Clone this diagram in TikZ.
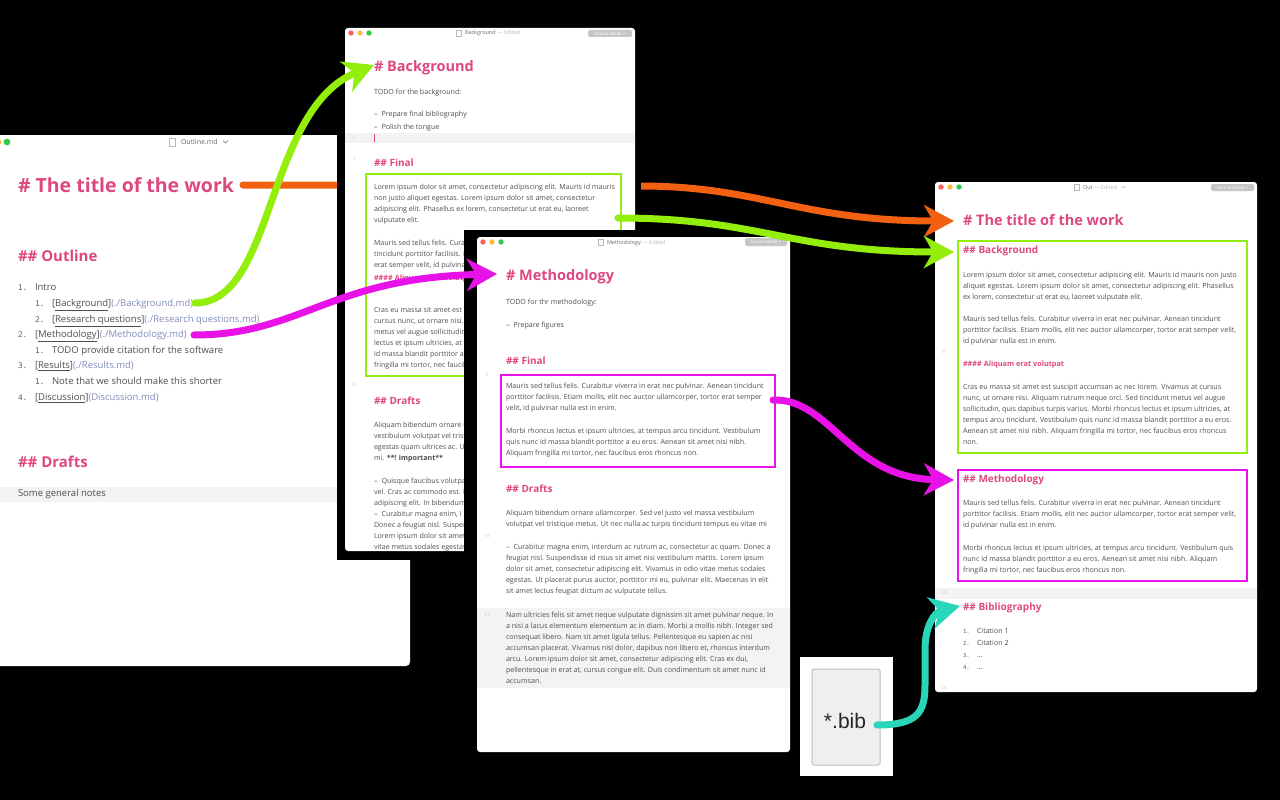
\documentclass[tikz,border=0pt]{standalone}
\usepackage{fontspec}
\setmainfont{Open Sans}
\newfontfamily\monof{DejaVu Sans Mono}
\newfontfamily\arialf{Liberation Sans}
\usetikzlibrary{arrows.meta}
\definecolor{hpink}{RGB}{222,72,128}
\definecolor{txt}{RGB}{78,78,78}
\definecolor{numc}{RGB}{95,95,95}
\definecolor{lnc}{RGB}{200,200,200}
\definecolor{linkc}{RGB}{130,140,188}
\definecolor{bandc}{RGB}{243,243,243}
\definecolor{ttc}{RGB}{105,105,105}
\definecolor{ttl}{RGB}{185,185,185}
\definecolor{pillc}{RGB}{198,198,198}
\definecolor{aorange}{RGB}{242,96,18}
\definecolor{agreen}{RGB}{146,238,10}
\definecolor{amag}{RGB}{232,18,232}
\definecolor{ateal}{RGB}{42,214,186}
\definecolor{tlred}{RGB}{252,96,92}
\definecolor{tlyel}{RGB}{253,188,64}
\definecolor{tlgrn}{RGB}{52,200,74}
\definecolor{bibfill}{RGB}{239,239,239}
\definecolor{bibdraw}{RGB}{184,188,200}
\newcommand\txtlines[5]{\foreach \tline [count=\ti from 0] in {#5}{\node[#4] (#1\ti) at (#2,#3+11.15*\ti) {\tline};}}
\newcommand\tlights[3]{\fill[tlred] (#1,#2) circle (#3pt); \fill[tlyel] (#1+9,#2) circle (#3pt); \fill[tlgrn] (#1+18,#2) circle (#3pt);}
\newcommand\lk[2]{[\underline{#1}]\textcolor{linkc}{(#2)}}
\begin{document}
\begin{tikzpicture}[x=1pt,y=-1pt,
  every node/.style={inner sep=0pt, outer sep=0pt},
  tx/.style={anchor=base west, text=txt, font=\fontsize{7.1}{8}\selectfont, yshift=-2pt},
  otx/.style={anchor=base west, text=txt, font=\fontsize{9.5}{11}\selectfont, yshift=-2.6pt},
  onum/.style={anchor=base west, text=numc, font=\monof\fontsize{7.8}{9}\selectfont, yshift=-2.6pt},
  bnum/.style={anchor=base west, text=numc, font=\monof\fontsize{5.6}{7}\selectfont, yshift=-2pt},
  hA/.style={anchor=base west, text=hpink, font=\bfseries\fontsize{14.5}{16}\selectfont, yshift=-5.2pt},
  hAo/.style={anchor=base west, text=hpink, font=\bfseries\fontsize{19.5}{22}\selectfont, yshift=-7pt},
  hB/.style={anchor=base west, text=hpink, font=\bfseries\fontsize{10}{12}\selectfont, yshift=-3.6pt},
  hBo/.style={anchor=base west, text=hpink, font=\bfseries\fontsize{15}{17}\selectfont, yshift=-5.4pt},
  hD/.style={anchor=base west, text=hpink, font=\bfseries\fontsize{7.3}{9}\selectfont, yshift=-2.6pt},
  lnum/.style={anchor=base, text=lnc, font=\fontsize{4.5}{5}\selectfont, yshift=-1.6pt},
  ttlx/.style={anchor=base west, text=ttc, font=\fontsize{5.5}{6}\selectfont, yshift=-2pt},
  pilltx/.style={text=white, font=\fontsize{4.4}{5}\selectfont},
  pillbox/.style={fill=pillc, rounded corners=1.5pt},
  frame/.style={fill=black},
  win/.style={fill=white, rounded corners=3pt},
  hibox/.style={draw=#1, line width=1.8pt},
  icon/.style={draw=ttl, line width=0.4pt},
  conn/.style={draw=#1, line width=7pt, line cap=round, -{Stealth[length=30pt,width=32pt,inset=9pt]}}
]
\clip (0,0) rectangle (1280,800);
\fill[black] (0,0) rectangle (1280,800);

% ================= Out window =================
\fill[win] (935,182) rectangle (1257,692);
\tlights{941}{187}{2.7}
\draw[icon] (1074.5,184) rectangle (1079,190.5);
\node[ttlx] (outTitle) at (1083,187) {Out \textcolor{ttl}{— Edited}};
\draw[ttl, line width=0.4pt] (1121.5,186) -- (1123.5,188) -- (1125.5,186);
\fill[pillbox] (1211,184) rectangle (1254,191);
\node[pilltx] (outPill) at (1232.5,187.5) {Source Mode ×};
\node[lnum] (o1n) at (944,211) {1};
\node[hA] (outT) at (963,220) {\# The title of the work};
\draw[hibox=agreen] (958,241) rectangle (1247,453);
\node[hB] (outBg) at (963,250) {\#\# Background};
\txtlines{oP}{963}{275}{tx}{{Lorem ipsum dolor sit amet, consectetur adipiscing elit. Mauris id mauris non justo},{aliquet egestas. Lorem ipsum dolor sit amet, consectetur adipiscing elit. Phasellus},{ex lorem, consectetur ut erat eu, laoreet vulputate elit.}}
\txtlines{oQ}{963}{319}{tx}{{Mauris sed tellus felis. Curabitur viverra in erat nec pulvinar. Aenean tincidunt},{porttitor facilisis. Etiam mollis, elit nec auctor ullamcorper, tortor erat semper velit,},{id pulvinar nulla est in enim.}}
\node[lnum] (o8n) at (944,352) {8};
\node[hD] (outH4) at (963,364) {\#\#\#\# Aliquam erat volutpat};
\txtlines{oR}{963}{387}{tx}{{Cras eu massa sit amet est suscipit accumsan ac nec lorem. Vivamus at cursus},{nunc, ut ornare nisi. Aliquam rutrum neque orci. Sed tincidunt metus vel augue},{sollicitudin, quis dapibus turpis varius. Morbi rhoncus lectus et ipsum ultricies, at},{tempus arcu tincidunt. Vestibulum quis nunc id massa blandit porttitor a eu eros.},{Aenean sit amet nisi nibh. Aliquam fringilla mi tortor, nec faucibus eros rhoncus},{non.}}
\draw[hibox=amag] (958,470) rectangle (1247,581);
\node[hB] (outMe) at (963,479) {\#\# Methodology};
\txtlines{oS}{963}{503}{tx}{{Mauris sed tellus felis. Curabitur viverra in erat nec pulvinar. Aenean tincidunt},{porttitor facilisis. Etiam mollis, elit nec auctor ullamcorper, tortor erat semper velit,},{id pulvinar nulla est in enim.}}
\txtlines{oU}{963}{548}{tx}{{Morbi rhoncus lectus et ipsum ultricies, at tempus arcu tincidunt. Vestibulum quis},{nunc id massa blandit porttitor a eu eros. Aenean sit amet nisi nibh. Aliquam},{fringilla mi tortor, nec faucibus eros rhoncus non.}}
\fill[bandc] (935,588) rectangle (1257,599);
\node[lnum] (o20n) at (944,593) {20};
\node[hB] (outBib) at (963,607) {\#\# Bibliography};
\node[bnum] (ob1) at (963,631) {1.}; \node[tx] (oc1) at (977,631) {Citation 1};
\node[bnum] (ob2) at (963,643) {2.}; \node[tx] (oc2) at (977,643) {Citation 2};
\node[bnum] (ob3) at (963,655) {3.}; \node[tx] (oc3) at (977,655) {…};
\node[bnum] (ob4) at (963,667) {4.}; \node[tx] (oc4) at (977,667) {…};
\node[lnum] (o28n) at (944,688) {28};

% ================= Outline window =================
\fill[white, rounded corners=4pt] (-20,135) rectangle (410,666);
\tlights{-11}{142}{3.4}
\draw[icon] (169,138) rectangle (175,146);
\node[ttlx, font=\fontsize{7}{8}\selectfont, yshift=-0.5pt] (olTitleBar) at (181,142) {Outline.md};
\draw[ttc, line width=0.5pt] (223,140.5) -- (225.5,143) -- (228,140.5);
\node[hAo] (olTitle) at (18,185) {\# The title of the work};
\node[hBo] (olOutline) at (18,256) {\#\# Outline};
\node[onum] (ol1) at (18,288) {1.}; \node[otx] (olIntro) at (35,288) {Intro};
\node[onum] (ol11) at (35,304) {1.}; \node[otx] (olBg) at (52,304) {\lk{Background}{./Background.md}};
\node[onum] (ol12) at (35,320) {2.}; \node[otx] (olRq) at (52,320) {\lk{Research questions}{./Research questions.md}};
\node[onum] (ol2) at (18,335) {2.}; \node[otx] (olMe) at (35,335) {\lk{Methodology}{./Methodology.md}};
\node[onum] (ol21) at (35,351) {1.}; \node[otx] (olTodo) at (52,351) {TODO provide citation for the software};
\node[onum] (ol3) at (18,366) {3.}; \node[otx] (olRes) at (35,366) {\lk{Results}{./Results.md}};
\node[onum] (ol31) at (35,382) {1.}; \node[otx] (olNote) at (52,382) {Note that we should make this shorter};
\node[onum] (ol4) at (18,398) {4.}; \node[otx] (olDis) at (35,398) {\lk{Discussion}{Discussion.md}};
\node[hBo] (olDrafts) at (18,462) {\#\# Drafts};
\fill[bandc] (0,487) rectangle (410,502);
\node[otx] (olNotes) at (18,494) {Some general notes};

% orange connector (passes under the Background window)
\coordinate (oS1) at (243,185);
\coordinate (oS2) at (640,186);
\coordinate (oS3) at (954,221);
\draw[conn=aorange] (oS1) -- (oS2) .. controls (760,186) and (800,221) .. (oS3);

% ================= Background window =================
\fill[frame] (337,18) rectangle (641,560);
\fill[win] (345,28) rectangle (635,551);
\begin{scope}
\clip (345,28) -- (635,28) -- (635,230) -- (464,230) -- (464,551) -- (345,551) -- cycle;
\tlights{351}{33}{2.7}
\draw[icon] (456.5,30) rectangle (461,36.5);
\node[ttlx] (bgTitleBar) at (465,33) {Background \textcolor{ttl}{— Edited}};
\fill[pillbox] (588,30) rectangle (632,37);
\node[pilltx] (bgPill) at (610,33.5) {Source Mode ×};
\node[lnum] (b1n) at (354,59) {1};
\node[hA] (bgH) at (374,66) {\# Background};
\node[tx] (bgTodo) at (374,93) {TODO for the background:};
\node[tx] (bgL1) at (374,115) {–\hspace{4pt}Prepare final bibliography};
\node[tx] (bgL2) at (374,127) {–\hspace{4pt}Polish the tongue};
\fill[bandc] (345,133) rectangle (635,143);
\node[lnum] (b7n) at (354,138) {7};
\draw[hpink, line width=1pt] (374,134) -- (374,142);
\node[lnum] (b9n) at (354,159) {9};
\node[hB] (bgFinal) at (374,163) {\#\# Final};
\draw[hibox=agreen] (366,174) rectangle (621,376);
\txtlines{bA}{374}{187}{tx}{{Lorem ipsum dolor sit amet, consectetur adipiscing elit. Mauris id mauris},{non justo aliquet egestas. Lorem ipsum dolor sit amet, consectetur},{adipiscing elit. Phasellus ex lorem, consectetur ut erat eu, laoreet},{vulputate elit.}}
\txtlines{bB}{374}{243}{tx}{{Mauris sed tellus felis. Cura},{tincidunt porttitor facilisis. E},{erat semper velit, id pulvina}}
\node[hD] (bgH4) at (374,278) {\#\#\#\# Aliquam erat volutp};
\txtlines{bC}{374}{310}{tx}{{Cras eu massa sit amet est s},{cursus nunc, ut ornare nisi.},{metus vel augue sollicitudin},{lectus et ipsum ultricies, at t},{id massa blandit porttitor a},{fringilla mi tortor, nec faucib}}
\node[lnum] (b15n) at (354,385) {15};
\node[hB] (bgDrafts) at (374,401) {\#\# Drafts};
\txtlines{bD}{374}{425}{tx}{{Aliquam bibendum ornare u},{vestibulum volutpat vel trist},{egestas quam ultrices ac. U},{mi. \textbf{**! important**}}}
\txtlines{bE}{374}{481}{tx}{{–\hspace{4pt}Quisque faucibus volutpa},{vel. Cras ac commodo est. L},{adipiscing elit. In bibendum},{–\hspace{4pt}Curabitur magna enim, i},{Donec a feugiat nisl. Susper},{Lorem ipsum dolor sit amet},{vitae metus sodales egestas}}
\end{scope}

% green connector: Outline link -> Background heading
\coordinate (g1S) at (195,303);
\coordinate (g1T) at (374,65);
\draw[conn=agreen] (g1S) .. controls (275,303) and (265,110) .. (g1T);

% ================= Methodology window =================
\fill[frame] (464,230) rectangle (800,762);
\fill[win] (477,237) rectangle (790,752);
\begin{scope}
\clip (477,237) rectangle (790,752);
\tlights{483}{242}{2.7}
\draw[icon] (598.5,239) rectangle (603,245.5);
\node[ttlx] (meTitleBar) at (607,242) {Methodology \textcolor{ttl}{— Edited}};
\fill[pillbox] (745,238) rectangle (787,246);
\node[pilltx] (mePill) at (766,242) {Source Mode ×};
\node[lnum] (m1n) at (487,270) {1};
\node[hA] (meH) at (506,275) {\# Methodology};
\node[tx] (meTodo) at (506,302) {TODO for thr methodology:};
\node[tx] (meL1) at (506,325) {–\hspace{4pt}Prepare figures};
\node[hB] (meFinal) at (506,361) {\#\# Final};
\node[lnum] (m9n) at (487,375) {9};
\draw[hibox=amag] (501,375) rectangle (775,467);
\txtlines{mA}{506}{386}{tx}{{Mauris sed tellus felis. Curabitur viverra in erat nec pulvinar. Aenean tincidunt},{porttitor facilisis. Etiam mollis, elit nec auctor ullamcorper, tortor erat semper},{velit, id pulvinar nulla est in enim.}}
\txtlines{mB}{506}{431}{tx}{{Morbi rhoncus lectus et ipsum ultricies, at tempus arcu tincidunt. Vestibulum},{quis nunc id massa blandit porttitor a eu eros. Aenean sit amet nisi nibh.},{Aliquam fringilla mi tortor, nec faucibus eros rhoncus non.}}
\node[hB] (meDrafts) at (506,489) {\#\# Drafts};
\txtlines{mC}{506}{513}{tx}{{Aliquam bibendum ornare ullamcorper. Sed vel justo vel massa vestibulum},{volutpat vel tristique metus. Ut nec nulla ac turpis tincidunt tempus eu vitae mi}}
\node[lnum] (m18n) at (487,536) {18};
\txtlines{mD}{506}{547}{tx}{{–\hspace{4pt}Curabitur magna enim, interdum ac rutrum ac, consectetur ac quam. Donec a},{feugiat nisl. Suspendisse id risus sit amet nisi vestibulum mattis. Lorem ipsum},{dolor sit amet, consectetur adipiscing elit. Vivamus in odio vitae metus sodales},{egestas. Ut placerat purus auctor, porttitor mi eu, pulvinar elit. Maecenas in elit},{sit amet lectus feugiat dictum ac vulputate tellus.}}
\fill[bandc] (477,608) rectangle (790,688);
\node[lnum] (m21n) at (487,615) {21};
\txtlines{mE}{506}{615}{tx}{{Nam ultricies felis sit amet neque vulputate dignissim sit amet pulvinar neque. In},{a nisi a lacus elementum elementum ac in diam. Morbi a mollis nibh. Integer sed},{consequat libero. Nam sit amet ligula tellus. Pellentesque eu sapien ac nisi},{accumsan placerat. Vivamus nisl dolor, dapibus non libero et, rhoncus interdum},{arcu. Lorem ipsum dolor sit amet, consectetur adipiscing elit. Cras ex dui,},{pellentesque in erat at, cursus congue elit. Duis condimentum sit amet nunc id},{accumsan.}}
\end{scope}

% green connector: Background final box -> Out background
\coordinate (g2S) at (618,218);
\coordinate (g2T) at (954,252);
\draw[conn=agreen] (g2S) .. controls (760,218) and (790,252) .. (g2T);

% magenta connector: Outline link -> Methodology heading
\coordinate (m1S) at (194,335);
\coordinate (m1T) at (497,274);
\draw[conn=amag] (m1S) .. controls (300,335) and (330,278) .. (m1T);

% magenta connector: Methodology final box -> Out methodology
\coordinate (m2S) at (773,400);
\coordinate (m2T) at (954,480);
\draw[conn=amag] (m2S) .. controls (830,398) and (850,478) .. (m2T);

% ================= *.bib =================
\fill[white] (800,657) rectangle (893,776);
\draw[fill=bibfill, draw=bibdraw, line width=1pt, rounded corners=1.5pt] (812,669) rectangle (880,765);
\node[font=\arialf\fontsize{21}{24}\selectfont, text=black!85] (bib) at (845,721) {*.bib};

% teal connector: bib -> Out bibliography
\coordinate (tS) at (877,725);
\coordinate (tT) at (960,606);
\draw[conn=ateal] (tS) .. controls (918,725) and (925,712) .. (925,685) -- (925,650) .. controls (925,625) and (935,612) .. (tT);
\end{tikzpicture}
\end{document}
